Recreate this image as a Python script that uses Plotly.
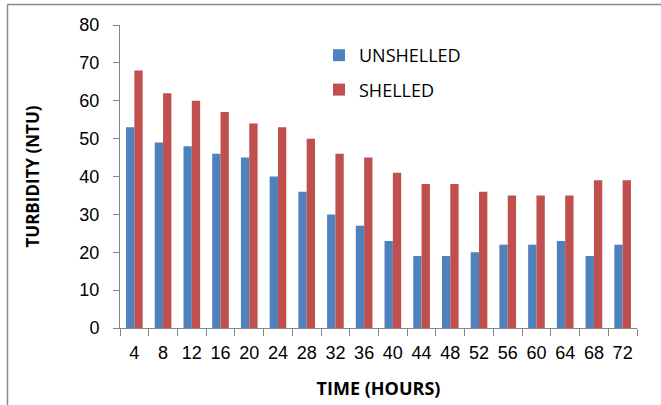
import plotly.graph_objects as go

hours = ["4", "8", "12", "16", "20", "24", "28", "32", "36", "40", "44", "48",
         "52", "56", "60", "64", "68", "72"]
unshelled = [53, 49, 48, 46, 45, 40, 36, 30, 27, 23, 19, 19, 20, 22, 22, 23, 19, 22]
shelled = [68, 62, 60, 57, 54, 53, 50, 46, 45, 41, 38, 38, 36, 35, 35, 35, 39, 39]

W, H = 661, 405
L, R, T, B = 120, 24, 25, 77
pw, ph = W - L - R, H - T - B

def px(x):
    return (x - L) / pw

def py(y):
    return (H - B - y) / ph

fig = go.Figure()
fig.add_bar(x=hours, y=unshelled, name="UNSHELLED", legendgroup="a",
            marker=dict(color="#4f81bd", line=dict(width=0)))
fig.add_bar(x=hours, y=shelled, name="SHELLED", legendgroup="b",
            marker=dict(color="#c0504d", line=dict(width=0)))

axis_line = "#868686"
fig.update_layout(
    width=W, height=H,
    margin=dict(l=L, r=R, t=T, b=B),
    paper_bgcolor="white", plot_bgcolor="white",
    barmode="group", bargap=0.42, bargroupgap=0,
    font=dict(family="Liberation Sans, Arial, sans-serif", color="black"),
    legend=dict(x=px(319), y=py(37), xanchor="left", yanchor="top",
                font=dict(family="Open Sans, Noto Sans, sans-serif", size=18),
                traceorder="grouped", tracegroupgap=8, itemwidth=30,
                bgcolor="rgba(0,0,0,0)"),
    xaxis=dict(type="category", showline=True, linecolor=axis_line, linewidth=1,
               ticks="outside", tickson="boundaries", ticklen=7, tickcolor=axis_line,
               tickfont=dict(size=18), tickangle=0, ticklabelstandoff=8, showgrid=False,
               automargin=False,
               title=dict(text="<b>TIME (HOURS)</b>",
                          font=dict(size=18, family="Open Sans, sans-serif"),
                          standoff=20)),
    yaxis=dict(range=[0, 80], dtick=10, showline=True, linecolor=axis_line, linewidth=1,
               ticks="outside", ticklen=6, tickcolor=axis_line, tickfont=dict(size=18),
               ticklabelstandoff=10, showgrid=False, zeroline=False, automargin=False,
               title=dict(text="<b>TURBIDITY (NTU)</b>",
                          font=dict(size=17, family="Open Sans, sans-serif"),
                          standoff=35)),
    shapes=[
        dict(type="line", xref="paper", yref="paper", x0=px(7.5), x1=px(670), y0=py(4.5), y1=py(4.5),
             line=dict(color="#888888", width=1.5)),
        dict(type="line", xref="paper", yref="paper", x0=px(7.5), x1=px(7.5), y0=py(4.5), y1=py(410),
             line=dict(color="#888888", width=1.5)),
    ],
)

fig.write_html("out.html")
